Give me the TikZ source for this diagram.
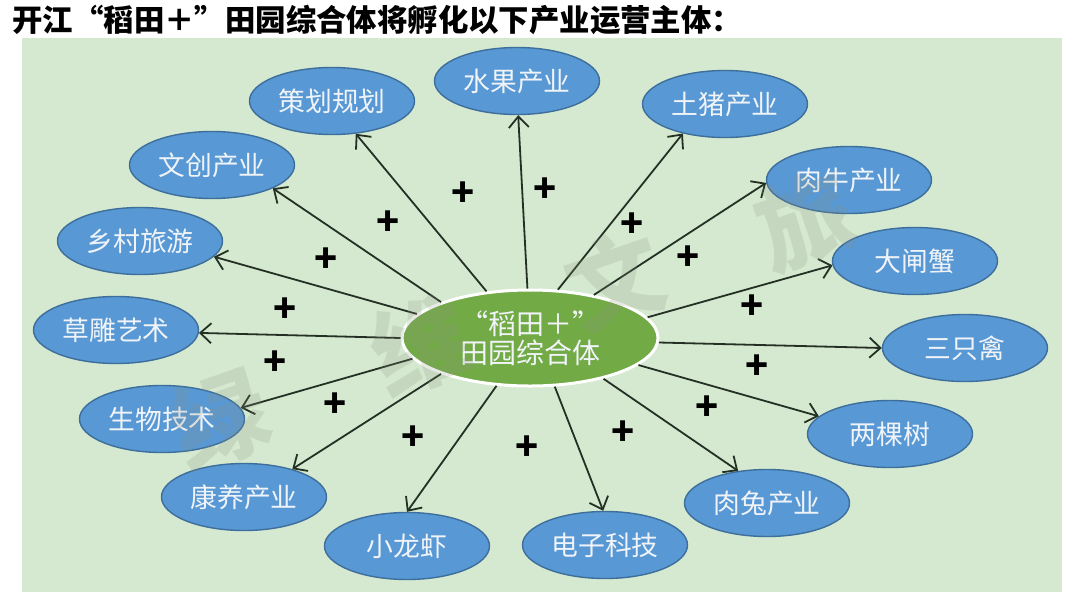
\documentclass[tikz,border=0pt]{standalone}
\usepackage{fontspec}
\setmainfont{Noto Sans CJK SC}
\usetikzlibrary{shapes.geometric,arrows.meta}
\definecolor{panelbg}{RGB}{212,233,207}
\definecolor{leaffill}{RGB}{88,152,212}
\definecolor{leafline}{RGB}{62,110,155}
\definecolor{hubfill}{RGB}{114,170,70}
\definecolor{arrcol}{RGB}{36,48,36}
\definecolor{softwhite}{RGB}{240,244,248}
\definecolor{wmcol}{RGB}{140,145,130}
\begin{document}
\begin{tikzpicture}[x=0.5pt,y=-0.5pt,
  leaf/.style={ellipse, draw=leafline, line width=0.7pt, fill=leaffill, text=softwhite,
    minimum width=82.5pt, minimum height=33.5pt, inner sep=0pt,
    font=\fontsize{13.4}{15}\selectfont},
  hub/.style={ellipse, draw=white, line width=1.5pt, fill=hubfill, text=softwhite,
    minimum width=128pt, minimum height=48pt, inner sep=0pt, align=center,
    font=\fontsize{14}{14.5}\selectfont},
  link/.style={draw=arrcol, line width=0.9pt,
    -{Straight Barb[length=5.5pt,width=10pt,line width=0.9pt]}},
  plussign/.style={font=\fontsize{19}{19}\selectfont\bfseries, text=black, inner sep=0pt},
  wm/.style={font=\fontsize{48}{48}\selectfont\bfseries, text=wmcol, text opacity=0.2,
    rotate=19, inner sep=0pt},
  titletext/.style={font=\fontsize{15.2}{18}\selectfont\bfseries, anchor=west, inner sep=0pt}
]
\useasboundingbox (0,0) rectangle (1080,600);
\fill[white] (0,0) rectangle (1080,600);
\fill[panelbg] (22,38) rectangle (1062,592);

\node[titletext] (title) at (12,20) {开江“稻田＋”田园综合体将孵化以下产业运营主体：};

\node[hub] (hub) at (530,338) {“稻田＋”\\田园综合体};
\node[leaf] (ch) at (332,101) {策划规划};
\node[leaf] (sg) at (517,81) {水果产业};
\node[leaf] (tz) at (725,104) {土猪产业};
\node[leaf] (rn) at (849,180) {肉牛产业};
\node[leaf] (dz) at (915,261) {大闸蟹};
\node[leaf] (sq) at (965,348) {三只禽};
\node[leaf] (lk) at (890,434) {两棵树};
\node[leaf] (rt) at (767,503) {肉兔产业};
\node[leaf] (dk) at (605,545) {电子科技};
\node[leaf] (xl) at (407,546) {小龙虾};
\node[leaf] (ky) at (244,497) {康养产业};
\node[leaf] (sw) at (162,419) {生物技术};
\node[leaf] (cd) at (116,330) {草雕艺术};
\node[leaf] (xc) at (140,241) {乡村旅游};
\node[leaf] (wc) at (212,165) {文创产业};

\draw[link] (hub.133) -- (ch.-54);
\draw[link] (hub.93) -- (sg.-88);
\draw[link] (hub.60) -- (tz.215);
\draw[link] (hub.34) -- (rn.182);
\draw[link] (hub.10) -- (dz.183);
\draw[link] (hub.-2) -- (sq.180);
\draw[link] (hub.-14) -- (lk.166);
\draw[link] (hub.-29) -- (rt.132);
\draw[link] (hub.-63) -- (dk.93);
\draw[link] (hub.235) -- (xl.90);
\draw[link] (hub.202) -- (ky.30);
\draw[link] (hub.190) -- (sw.8);
\draw[link] (hub.180) -- (cd.-2);
\draw[link] (hub.168) -- (xc.-12);
\draw[link] (hub.158) -- (wc.-21);

\node[plussign] (p1) at (463,194) {+};
\node[plussign] (p2) at (545,190) {+};
\node[plussign] (p3) at (632,225) {+};
\node[plussign] (p4) at (688,258) {+};
\node[plussign] (p5) at (752,307) {+};
\node[plussign] (p6) at (757,367) {+};
\node[plussign] (p7) at (707,408) {+};
\node[plussign] (p8) at (623,433) {+};
\node[plussign] (p9) at (527,448) {+};
\node[plussign] (p10) at (413,438) {+};
\node[plussign] (p11) at (335,405) {+};
\node[plussign] (p12) at (275,363) {+};
\node[plussign] (p13) at (285,310) {+};
\node[plussign] (p14) at (326,260) {+};
\node[plussign] (p15) at (388,223) {+};

\node[wm] (w1) at (220,420) {绿};
\node[wm] (w2) at (420,345) {维};
\node[wm] (w3) at (615,280) {文};
\node[wm] (w4) at (805,220) {旅};
\end{tikzpicture}
\end{document}
